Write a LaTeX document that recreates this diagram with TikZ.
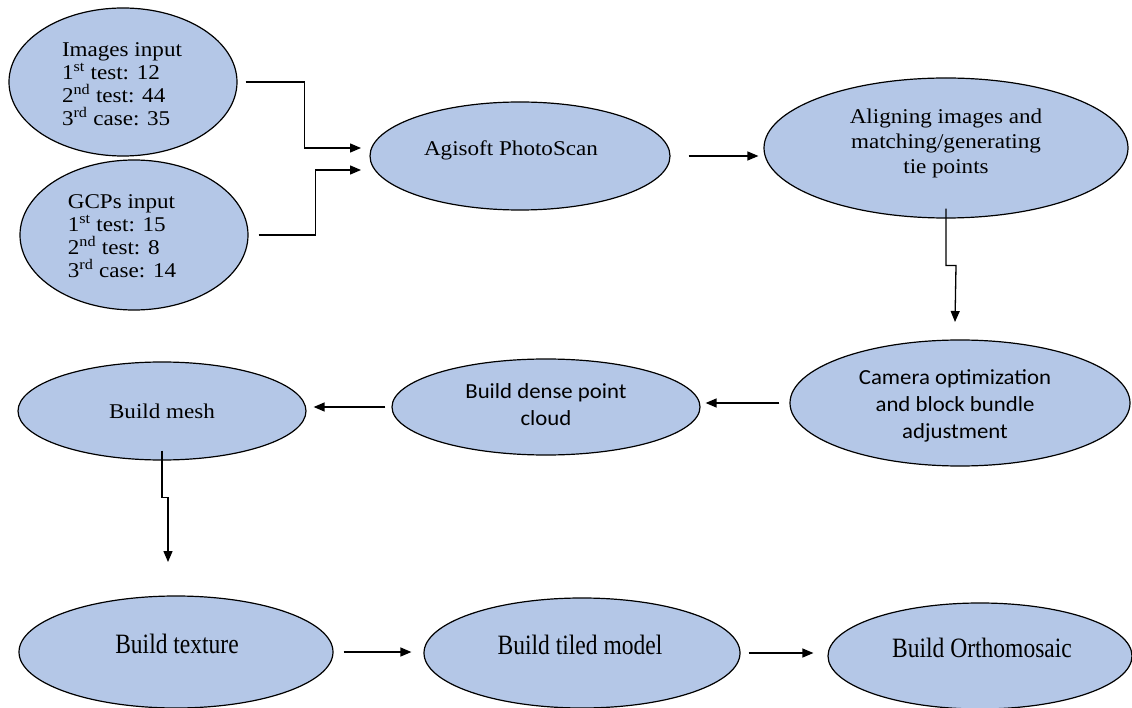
\documentclass[tikz,border=0pt]{standalone}
\usepackage{fontspec}
\setmainfont{Liberation Serif}
\newfontfamily\topserif[FakeStretch=1.1]{Liberation Serif}
\newfontfamily\carl[FakeStretch=1.06]{Carlito}
\newfontfamily\narrowserif[FakeStretch=0.84]{Liberation Serif}
\usetikzlibrary{shapes.geometric,arrows.meta,calc}
\definecolor{nodeblue}{HTML}{B4C7E7}
\tikzset{
  ell/.style={ellipse, draw=black, fill=nodeblue, line width=1.2pt, inner sep=0pt},
  arr/.style={-{Triangle[length=11pt,width=9pt]}, line width=1.3pt},
  toptxt/.style={font=\topserif\fontsize{21}{23}\selectfont, align=center, inner sep=0pt},
  caltxt/.style={font=\carl\fontsize{21.5}{27}\selectfont, align=center, inner sep=0pt},
  bottxt/.style={font=\narrowserif\fontsize{28}{30}\selectfont, align=center, inner sep=0pt},
}
\begin{document}
\begin{tikzpicture}[x=1pt,y=-1pt]
\useasboundingbox (0,0) rectangle (1132,708);
% ellipses
\node[ell, minimum width=228, minimum height=148] (img) at (123,82) {};
\node[ell, minimum width=228, minimum height=150] (gcp) at (134,235) {};
\node[ell, minimum width=300, minimum height=108] (agi) at (520,156) {};
\node[ell, minimum width=364, minimum height=140] (ali) at (946,148) {};
\node[ell, minimum width=340, minimum height=126] (cam) at (960,403) {};
\node[ell, minimum width=308, minimum height=96] (den) at (546,407) {};
\node[ell, minimum width=288, minimum height=98] (mesh) at (162,411) {};
\node[ell, minimum width=314, minimum height=112] (tex) at (176,652) {};
\node[ell, minimum width=316, minimum height=110] (til) at (582,653) {};
\node[ell, minimum width=304, minimum height=106] (ort) at (980,656) {};
% texts
\node[toptxt, align=left] (imgT) at (122,84) {Images input\\1\textsuperscript{st} test: 12\\2\textsuperscript{nd} test: 44\\3\textsuperscript{rd} case: 35};
\node[toptxt, align=left] (gcpT) at (122,236) {GCPs input\\1\textsuperscript{st} test: 15\\2\textsuperscript{nd} test: 8\\3\textsuperscript{rd} case: 14};
\node[toptxt] (agiT) at (511,150) {Agisoft PhotoScan};
\node[toptxt, font=\topserif\fontsize{21}{25}\selectfont] (aliT) at (946,143) {Aligning images and\\matching/generating\\tie points};
\node[caltxt] (camT) at (955,406) {Camera optimization\\and block bundle\\adjustment};
\node[caltxt] (denT) at (546,405) {Build dense point\\cloud};
\node[toptxt] (meshT) at (162,411) {Build mesh};
\node[bottxt] (texT) at (177,644) {Build texture};
\node[bottxt] (tilT) at (580,645) {Build tiled model};
\node[bottxt] (ortT) at (982,648) {Build Orthomosaic};
% connector end points
\coordinate (tA) at (361,148);
\coordinate (tB) at (361,170);
\coordinate (tD) at (955,322);
\coordinate (tE) at (168,562);
% connectors
\draw[arr] ([xshift=8]img.east) -- ++(59,0) |- (tA);
\draw[arr] ([xshift=10]gcp.east) -- ++(57,0) |- (tB);
\draw[arr, shorten <=18pt, shorten >=5pt] (agi.east) -- (agi.east -| ali.west);
\draw[arr] ([yshift=10]ali.south) -- ++(0,57) -- ++(10,0) -- (tD);
\draw[arr, shorten <=10pt, shorten >=5pt] (cam.west) -- (cam.west -| den.east);
\draw[arr, shorten <=6pt, shorten >=7pt] (den.west) -- (den.west -| mesh.east);
\draw[arr] ([yshift=10]mesh.south) -- ++(0,47) -- ++(6,0) -- (tE);
\draw[arr, shorten <=10pt, shorten >=12pt] (tex.east) -- (tex.east -| til.west);
\draw[arr, shorten <=8pt, shorten >=14pt] (til.east) -- (til.east -| ort.west);
\end{tikzpicture}
\end{document}
